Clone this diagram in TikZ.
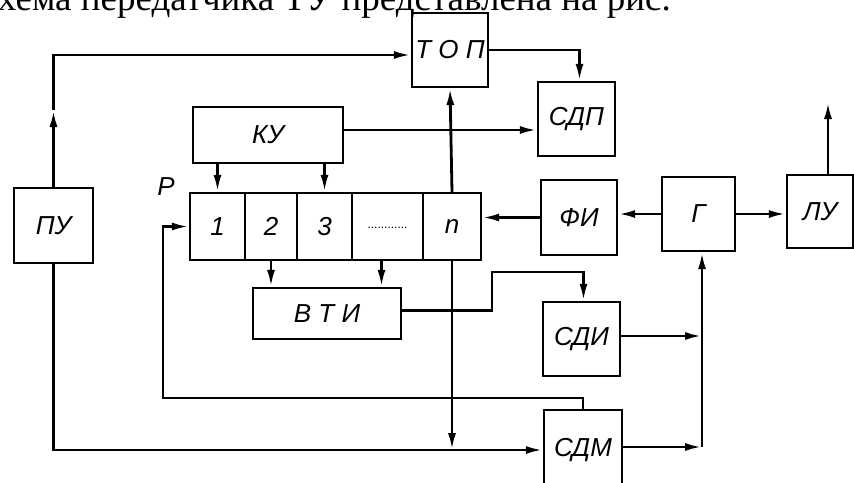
\documentclass[tikz,border=0pt]{standalone}
\usepackage{fontspec}
\setmainfont{Liberation Sans}
\newfontfamily\textserif{Liberation Serif}
\usetikzlibrary{arrows.meta}

\begin{document}
\begin{tikzpicture}[x=1pt, y=-1pt, >={Latex[length=17pt,width=8pt]},
		block/.style={draw, line width=2.2pt, rectangle, inner sep=0pt, font=\fontsize{26}{26}\selectfont\itshape},
		linie/.style={line width=2.8pt}]
				% Bildbereich
				\useasboundingbox (0,0) rectangle (854,482);
				\clip (0,0) rectangle (854,482);
				% Textzeile oben
				\node[anchor=base east, inner sep=0pt, font=\textserif\fontsize{37}{37}\selectfont] (kopf) at (671,10) {Схема передатчика ТУ представлена на рис.};
				% Bloecke zeichnen
				\node[block, minimum width=76, minimum height=74] (top) at (450,50) {Т О П};
				\node[block, minimum width=77, minimum height=74] (sdp) at (576.5,119) {СДП};
				\node[block, minimum width=150, minimum height=56] (ku) at (268,135) {КУ};
				\node[block, minimum width=79, minimum height=75] (pu) at (53.5,225.5) {ПУ};
				\node[block, minimum width=76, minimum height=75] (fi) at (579,217.5) {ФИ};
				\node[block, minimum width=73, minimum height=74] (g) at (698.5,214) {Г};
				\node[block, minimum width=66, minimum height=73] (lu) at (820,211.5) {ЛУ};
				\node[block, minimum width=148, minimum height=51] (vti) at (327,313.5) {В Т И};
				\node[block, minimum width=77, minimum height=74] (sdi) at (581.5,339) {СДИ};
				\node[block, minimum width=78, minimum height=80] (sdm) at (583,450) {СДМ};
				% Register
				\foreach \name/\xm/\w/\txt in {r1/217.5/55/1, r2/271/52/2, r3/324.5/55/3, rn/452/58/n}
					\node[block, minimum width=\w, minimum height=67] (\name) at (\xm,226.5) {\txt};
				\node[block, minimum width=71, minimum height=67, font=\fontsize{12}{12}\selectfont] (r4) at (387.5,226.5) {\raisebox{-4pt}{............}};
				\node[font=\fontsize{26}{26}\selectfont\itshape] (p) at (166,187) {Р};
				% Hilfspunkte
				\coordinate (ausgang) at (828,102);
				\coordinate (sammel) at (702,447);
				\coordinate (knick) at (492,272);
				\coordinate (rueck) at (163,398);
				% Verbindungen zeichnen
				\draw[linie, ->] (pu.north) -- (pu.north |- 0,110);
				\draw[linie, ->] (pu.north |- 0,110) |- ([yshift=-5pt]top.west);
				\draw[linie, ->] (pu.south) |- (sdm.west);
				\draw[linie, ->] (top.east) -| ([xshift=3pt]sdp.north);
				\draw[linie, ->] ([yshift=5pt]ku.east) -- ([yshift=5pt]ku.east -| sdp.west);
				\draw[linie, ->] (rn.north) -- (top.south);
				\draw[linie, ->] (rn.south) -- (rn.south |- sdm.west);
				\foreach \ziel in {r1, r3} \draw[linie, ->] (\ziel.north |- ku.south) -- (\ziel.north);
				\draw[linie, ->] (r2.south) -- (r2.south |- vti.north);
				\draw[linie, ->] ([xshift=-6pt]r4.south) -- ([xshift=-6pt]r4.south |- vti.north);
				\draw[linie, ->] ([yshift=3pt]vti.east) -| (knick) -| ([xshift=2pt]sdi.north);
				\draw[linie, ->] (fi.west) -- (fi.west -| rn.east);
				\draw[linie, ->] (g.west) -- (g.west -| fi.east);
				\draw[linie, ->] (g.east) -- (g.east -| lu.west);
				\draw[linie, ->] (ausgang |- lu.north) -- (ausgang);
				\draw[linie, ->] ([yshift=3pt]sdi.east) -- ([yshift=3pt]sdi.east -| sammel);
				\draw[linie, ->] ([yshift=3pt]sdm.east) -- (sammel);
				\draw[linie, ->] (sammel) -- (sammel |- g.south);
				\draw[linie, ->] (sdm.north) |- (rueck) |- (r1.west);
			\end{tikzpicture}
\end{document}
